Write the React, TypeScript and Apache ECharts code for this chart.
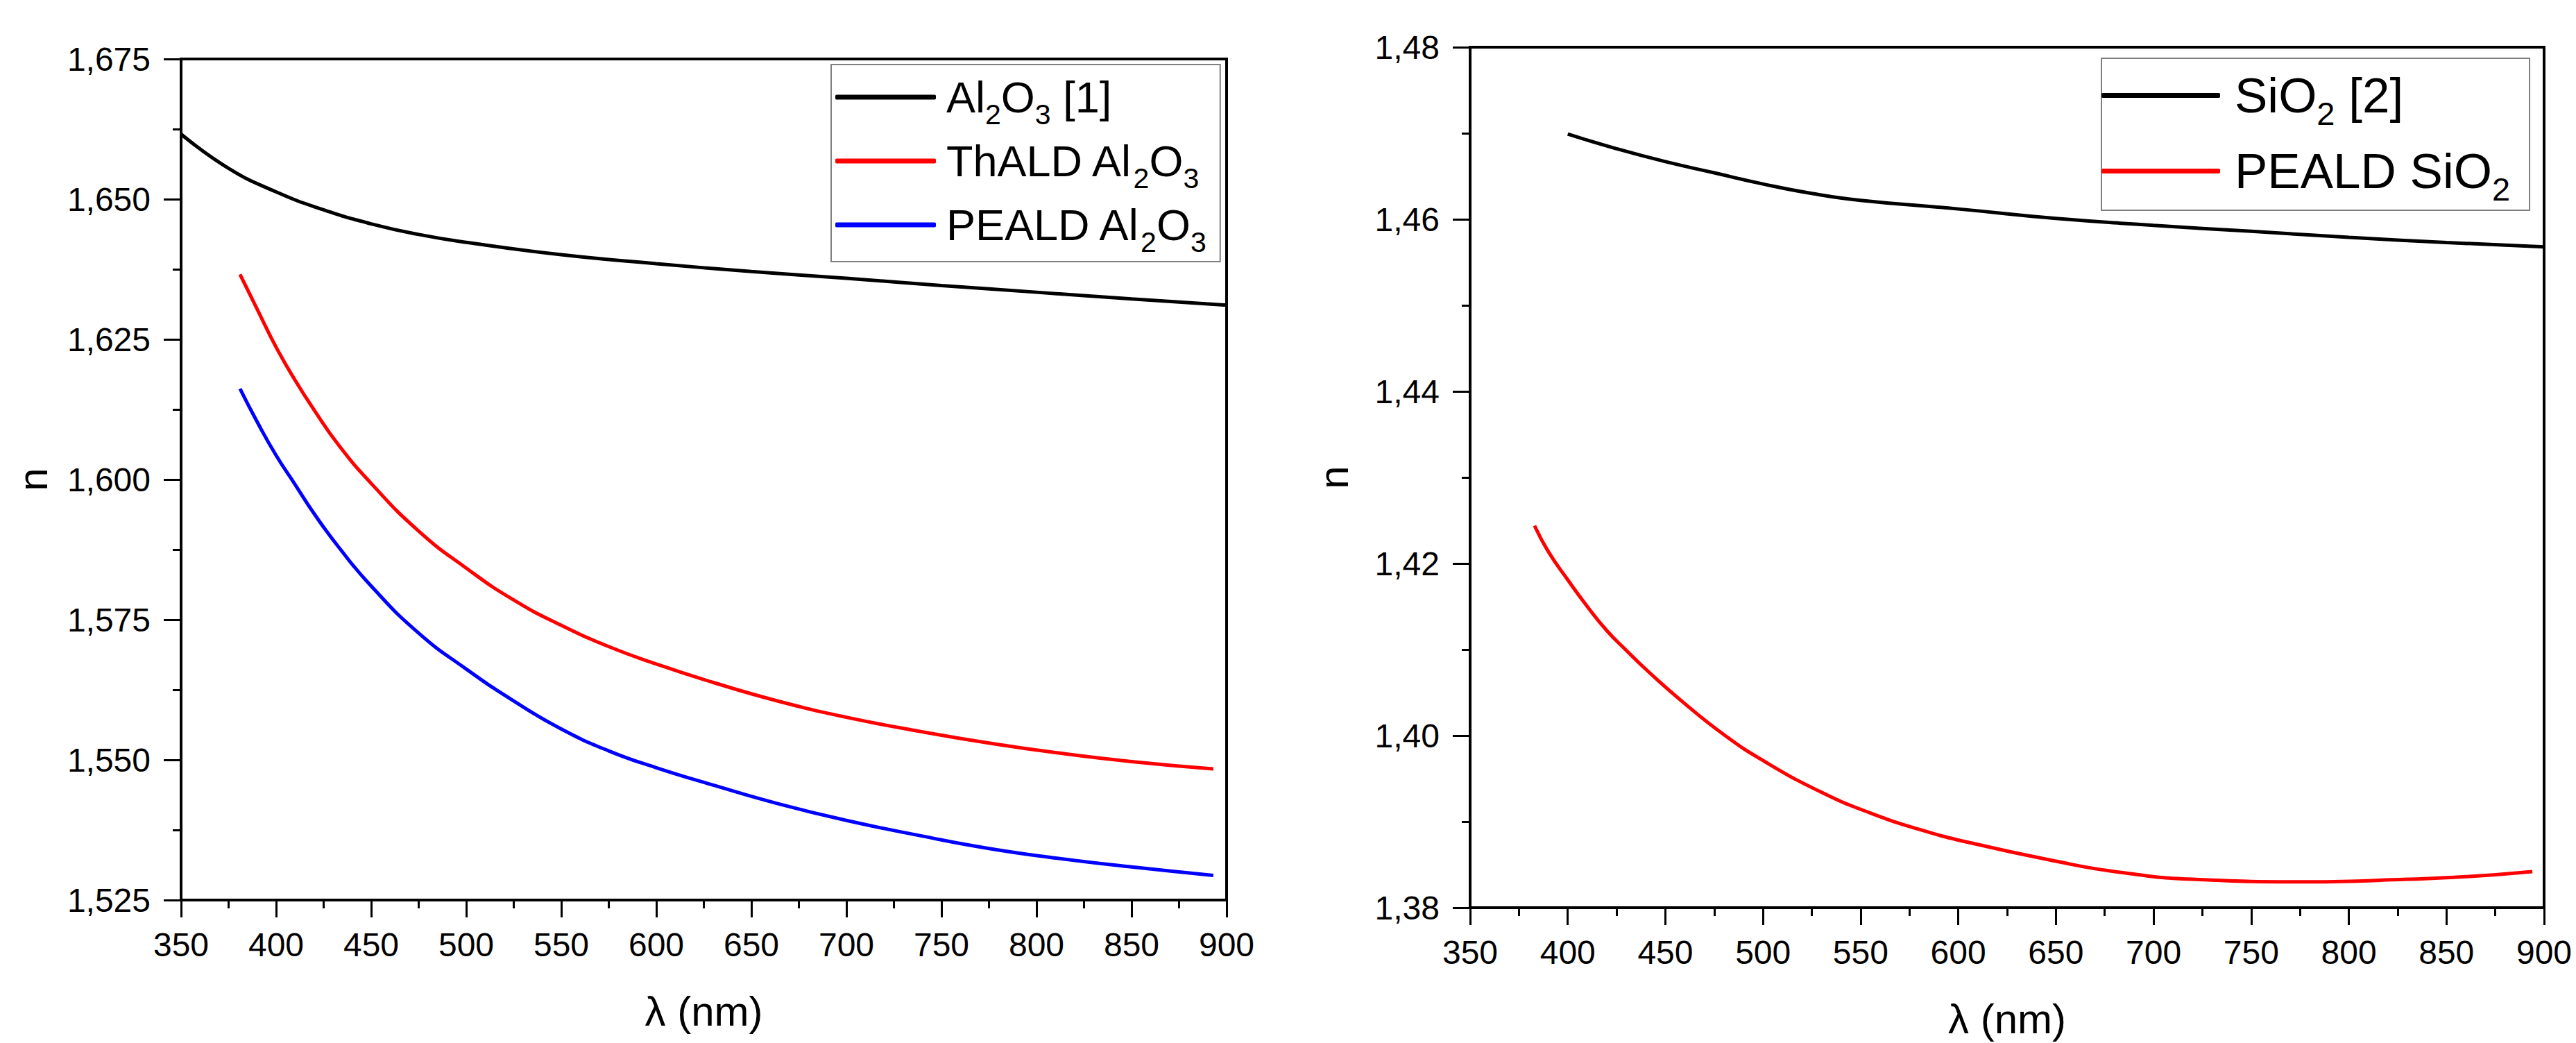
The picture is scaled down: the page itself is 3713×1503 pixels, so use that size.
import React, { useEffect, useRef } from "react";
import * as echarts from "echarts";

const W = 3713;
const H = 1503;
const FONT = "'Liberation Sans', Arial, Helvetica, sans-serif";

// ---------- Tick labels ----------
const xTicks = [350, 400, 450, 500, 550, 600, 650, 700, 750, 800, 850, 900];
const leftYTicks = [1.525, 1.55, 1.575, 1.6, 1.625, 1.65, 1.675];
const rightYTicks = [1.38, 1.4, 1.42, 1.44, 1.46, 1.48];

// ---------- Left panel: Al2O3 ----------
const al2o3RefLambda = [350, 375, 400, 425, 450, 475, 500, 550, 600, 650, 700, 750, 800, 850, 900];
const al2o3RefN = [1.6616, 1.6555, 1.6513, 1.6481, 1.6456, 1.6437, 1.6423, 1.6401, 1.6385, 1.6371, 1.6359, 1.6346, 1.6334, 1.6322, 1.6311];

const al2o3AldLambda = [381, 390, 400, 410, 420, 433, 450, 475, 500, 525, 550, 575, 600, 630, 665, 700, 740, 775, 810, 850, 893];
const thaldAl2o3N = [1.6366, 1.6304, 1.6236, 1.6177, 1.6124, 1.6061, 1.5993, 1.5908, 1.5842, 1.5785, 1.574, 1.5702, 1.5671, 1.5638, 1.5604, 1.5576, 1.555, 1.553, 1.5513, 1.5497, 1.5484];
const pealdAl2o3N = [1.6162, 1.6103, 1.6043, 1.5991, 1.5939, 1.5879, 1.581, 1.5726, 1.5662, 1.5605, 1.5555, 1.5516, 1.5486, 1.5455, 1.5421, 1.5392, 1.5364, 1.5342, 1.5325, 1.5309, 1.5294];

// ---------- Right panel: SiO2 ----------
const sio2RefLambda = [400, 425, 450, 475, 500, 525, 550, 600, 650, 700, 750, 800, 850, 900];
const sio2RefN = [1.4699, 1.4682, 1.4667, 1.4654, 1.4641, 1.463, 1.4622, 1.4612, 1.4601, 1.4593, 1.4586, 1.4579, 1.4573, 1.4568];

const pealdSio2Lambda = [383, 390, 400, 410, 420, 430, 440, 460, 480, 500, 530, 555, 580, 605, 650, 680, 720, 780, 830, 860, 894];
const pealdSio2N = [1.4244, 1.4214, 1.4181, 1.415, 1.4122, 1.4099, 1.4077, 1.4037, 1.4001, 1.3971, 1.3934, 1.391, 1.3891, 1.3876, 1.3854, 1.3842, 1.3833, 1.383, 1.3833, 1.3836, 1.3842];

const leftNames = ["Al2O3 [1]", "ThALD Al2O3", "PEALD Al2O3"];
const rightNames = ["SiO2 [2]", "PEALD SiO2"];

const pairs = (xs: number[], ys: number[]) => xs.map((x, i) => [x, ys[i]]);

const toRich = (name: string) =>
  ("{m|" + name.replace(/([A-Za-z])(\d)/g, "$1}{s|$2}{m|") + "}").replace(/\{m\|\}/g, "");

const xAxisFor = (gridIndex: number) => ({
  type: "value",
  gridIndex,
  min: xTicks[0],
  max: xTicks[xTicks.length - 1],
  interval: xTicks[1] - xTicks[0],
  name: "λ (nm)",
  nameLocation: "middle",
  nameGap: 130,
  nameTextStyle: { fontSize: 60, color: "#000", fontFamily: FONT },
  axisLine: { show: true, onZero: false, lineStyle: { color: "#000", width: 4 } },
  axisTick: { show: true, inside: false, length: 25, lineStyle: { color: "#000", width: 3 } },
  minorTick: { show: true, splitNumber: 2, length: 12, lineStyle: { color: "#000", width: 3 } },
  splitLine: { show: false },
  minorSplitLine: { show: false },
  axisLabel: {
    fontSize: 48,
    color: "#000",
    fontFamily: FONT,
    margin: 40,
    showMinLabel: true,
    showMaxLabel: true,
    hideOverlap: false,
  },
});

const yAxisFor = (gridIndex: number, ticks: number[], digits: number, nameGap: number) => ({
  type: "value",
  gridIndex,
  min: ticks[0],
  max: ticks[ticks.length - 1],
  interval: +(ticks[1] - ticks[0]).toFixed(4),
  name: "n",
  nameLocation: "middle",
  nameGap,
  nameTextStyle: { fontSize: 60, color: "#000", fontFamily: FONT },
  axisLine: { show: true, onZero: false, lineStyle: { color: "#000", width: 4 } },
  axisTick: { show: true, inside: false, length: 25, lineStyle: { color: "#000", width: 3 } },
  minorTick: { show: true, splitNumber: 2, length: 12, lineStyle: { color: "#000", width: 3 } },
  splitLine: { show: false },
  minorSplitLine: { show: false },
  axisLabel: {
    fontSize: 48,
    color: "#000",
    fontFamily: FONT,
    margin: 44,
    showMinLabel: true,
    showMaxLabel: true,
    hideOverlap: false,
    formatter: (v: number) => v.toFixed(digits).replace(".", ","),
  },
});

const lineSeries = (name: string, data: number[][], color: string, xi: number) => ({
  type: "line",
  name,
  xAxisIndex: xi,
  yAxisIndex: xi,
  data,
  symbol: "none",
  smooth: 0.5,
  color,
  lineStyle: { color, width: 5 },
  emphasis: { disabled: true },
  silent: true,
});

const legendFor = (
  names: string[],
  left: number,
  top: number,
  fontSize: number,
  subSize: number,
  lineHeight: number,
  itemWidth: number,
  itemGap: number,
  padding: number[],
  textPad: number
) => ({
  data: names,
  orient: "vertical",
  left,
  top,
  icon: "roundRect",
  itemWidth,
  itemHeight: 7,
  itemGap,
  padding,
  borderColor: "#7f7f7f",
  borderWidth: 2,
  backgroundColor: "#fff",
  selectedMode: false,
  formatter: (name: string) => toRich(name),
  textStyle: {
    color: "#000",
    fontFamily: FONT,
    fontSize,
    lineHeight,
    padding: [0, 0, 0, textPad],
    rich: {
      m: { fontSize, lineHeight, fontFamily: FONT, color: "#000" },
      s: { fontSize: subSize, lineHeight: subSize, verticalAlign: "bottom", fontFamily: FONT, color: "#000" },
    },
  },
});

export default function App() {
  const ref = useRef<HTMLDivElement>(null);

  useEffect(() => {
    if (!ref.current) return;
    const chart = echarts.init(ref.current, undefined, { renderer: "svg", width: W, height: H });
    const option = {
      animation: false,
      backgroundColor: "#fff",
      textStyle: { fontFamily: FONT },
      grid: [
        { left: 261, top: 85, width: 1507, height: 1212, show: true, borderColor: "#000", borderWidth: 4, backgroundColor: "transparent" },
        { left: 2119, top: 68, width: 1548, height: 1248, show: true, borderColor: "#000", borderWidth: 4, backgroundColor: "transparent" },
      ],
      xAxis: [xAxisFor(0), xAxisFor(1)],
      yAxis: [yAxisFor(0, leftYTicks, 3, 184), yAxisFor(1, rightYTicks, 2, 167)],
      legend: [
        legendFor(leftNames, 1198, 93, 63, 41, 90, 145, 2, [2, 20, 8, 6], 10),
        legendFor(rightNames, 3029, 84, 71, 47, 99, 171, 10, [4, 28, 7, 0], 16),
      ],
      series: [
        lineSeries(leftNames[0], pairs(al2o3RefLambda, al2o3RefN), "#000000", 0),
        lineSeries(leftNames[1], pairs(al2o3AldLambda, thaldAl2o3N), "#ff0000", 0),
        lineSeries(leftNames[2], pairs(al2o3AldLambda, pealdAl2o3N), "#0000ff", 0),
        lineSeries(rightNames[0], pairs(sio2RefLambda, sio2RefN), "#000000", 1),
        lineSeries(rightNames[1], pairs(pealdSio2Lambda, pealdSio2N), "#ff0000", 1),
      ],
    };
    chart.setOption(option as any);
    return () => chart.dispose();
  }, []);

  return (
    <div
      ref={ref}
      style={{ position: "fixed", left: 0, top: 0, width: W, height: H, background: "#fff" }}
    />
  );
}
